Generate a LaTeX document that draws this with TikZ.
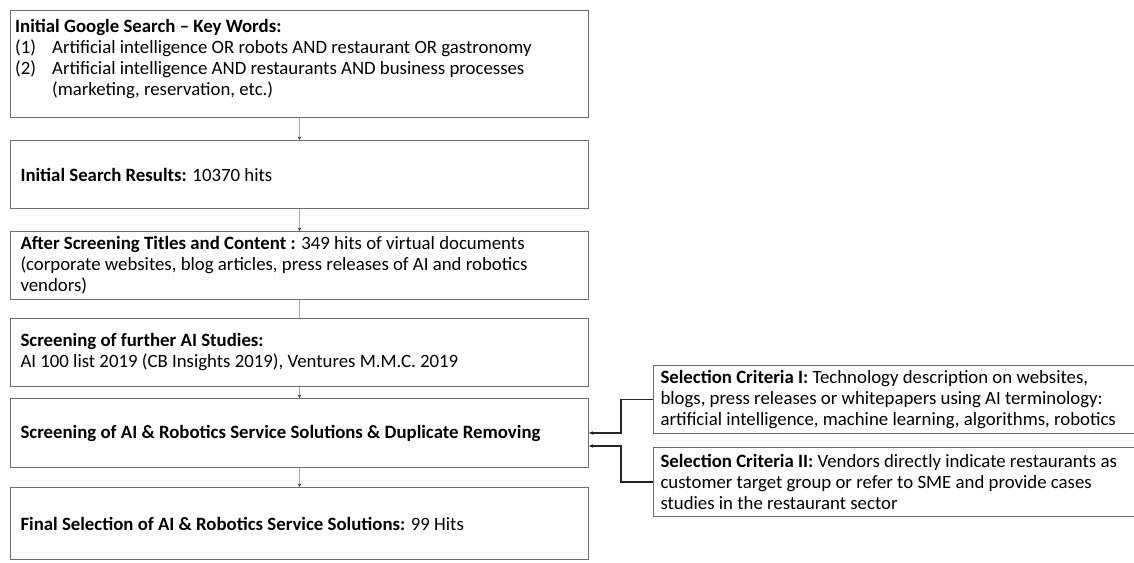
\documentclass[tikz,border=0pt]{standalone}
\usepackage{fontspec}
\setmainfont{Carlito}
\usetikzlibrary{arrows.meta}
\definecolor{boxline}{HTML}{6E6E6E}
\definecolor{connline}{HTML}{A8A8A8}
\definecolor{tipcol}{HTML}{404040}
\begin{document}
\begin{tikzpicture}[x=1pt,y=-1pt,
  every node/.style={font=\fontsize{18.8}{21}\selectfont},
  box/.style={draw=boxline, line width=1pt, anchor=north west, inner xsep=10pt, inner ysep=0pt, text width=558pt, align=flush left},
  critbox/.style={draw=boxline, line width=1pt, anchor=north west, inner xsep=7pt, inner ysep=0pt, text width=500pt, align=flush left},
  vconn/.style={draw=connline, line width=1.3pt},
  vtip/.style={vconn, -{Stealth[length=3.5pt,width=3.5pt,color=tipcol]}},
  crit/.style={draw=black!85, line width=1.6pt, -{Stealth[length=4pt,width=3.5pt]}}
]
\useasboundingbox (0,0) rectangle (1134,562);
\clip (0,0) rectangle (1134,562);

\node[box, minimum height=107pt] (b1) at (10,10) {};
\node[anchor=north west, inner sep=0pt, align=flush left] (t1) at (15,19)
  {\textbf{Initial Google Search -- Key Words:}\\
   \makebox[37pt][l]{(1)}Artificial intelligence OR robots AND restaurant OR gastronomy\\
   \makebox[37pt][l]{(2)}Artificial intelligence AND restaurants AND business processes\\
   \hspace*{37pt}(marketing, reservation, etc.)};

\node[box, minimum height=68pt] (b2) at (10,140)
  {\textbf{Initial Search Results:} 10370 hits};

\node[box, minimum height=68pt] (b3) at (10,231)
  {\textbf{After Screening Titles and Content :} 349 hits of virtual documents\\
   (corporate websites, blog articles, press releases of AI and robotics\\
   vendors)};

\node[box, minimum height=68pt] (b4) at (10,318)
  {\textbf{Screening of further AI Studies:}\\
   AI 100 list 2019 (CB Insights 2019), Ventures M.M.C. 2019};

\node[box, minimum height=69pt] (b5) at (10,398)
  {\textbf{Screening of AI \& Robotics Service Solutions \& Duplicate Removing}};

\node[box, minimum height=72pt] (b6) at (10,487)
  {\textbf{Final Selection of AI \& Robotics Service Solutions:} 99 Hits};

\node[critbox, minimum height=68pt] (c1) at (653,365)
  {\textbf{Selection Criteria I:} Technology description on websites,\\
   blogs, press releases or whitepapers using AI terminology:\\
   artificial intelligence, machine learning, algorithms, robotics};

\node[critbox, minimum height=69pt] (c2) at (653,447)
  {\textbf{Selection Criteria II:} Vendors directly indicate restaurants as\\
   customer target group or refer to SME and provide cases\\
   studies in the restaurant sector};

\draw[vtip] (b1.south) -- (b2.north);
\draw[vtip] (b2.south) -- (b3.north);
\draw[vconn] (b3.south) -- (b4.north);
\draw[vtip] (b4.south) -- (b5.north);
\draw[vtip] (b5.south) -- (b6.north);

\draw[crit] (c1.west) -- ++(-32,0) |- (b5.east);
\draw[crit] (c2.west) -- ++(-32,0) |- ([yshift=-13pt]b5.east);
\end{tikzpicture}
\end{document}
